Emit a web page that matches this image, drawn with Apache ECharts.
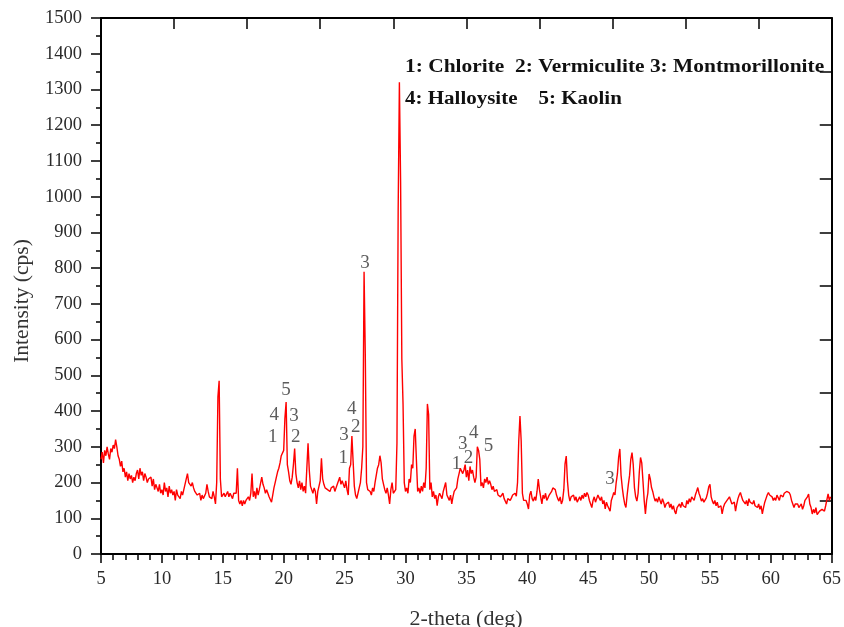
<!DOCTYPE html>
<html>
<head>
<meta charset="utf-8">
<script src="https://cdn.jsdelivr.net/npm/echarts@6/dist/echarts.min.js"></script>
<style>
html,body{margin:0;padding:0;background:#fff;}
#chart{width:844px;height:627px;}
</style>
</head>
<body>
<div id="chart"></div>
<script>
// 2-theta sampling grid: start and step of the scan
const thetaStart = 5;
const thetaStep = 0.1;
// Intensity (cps), one row per degree of 2-theta (10 samples per row)
const intensity = [
  265,285,255,290,275,300,280,265,295,285,
  305,295,320,300,275,265,245,260,230,240,
  215,230,205,225,210,220,200,215,205,225,
  235,210,240,220,230,205,225,215,200,210,
  205,215,190,210,180,195,185,175,195,170,
  180,165,200,175,185,160,190,170,180,165,
  175,150,180,165,170,155,175,165,180,185,
  210,225,200,205,190,200,185,175,180,165,
  160,170,150,165,155,160,170,195,175,160,
  165,155,175,160,140,200,440,485,210,160,
  155,170,160,165,175,160,170,165,155,170,
  165,170,240,150,140,150,135,150,140,150,
  145,160,150,170,225,160,175,155,185,165,
  180,175,215,195,185,170,180,175,160,165,
  145,165,185,200,215,230,240,255,275,270,
  290,380,425,250,230,205,195,215,250,295,
  225,200,185,205,180,200,175,190,170,175,
  310,235,190,180,170,185,175,140,175,190,
  205,268,210,195,185,190,180,185,175,185,
  180,190,175,185,195,200,215,195,205,200,
  185,205,180,165,240,250,330,260,190,165,
  155,170,185,200,240,300,790,560,200,180,
  180,175,165,185,175,200,220,240,250,275,
  255,210,195,180,170,185,165,140,180,200,
  170,175,180,310,965,1320,1040,546,420,200,
  175,185,170,210,200,250,240,330,350,260,
  175,185,170,190,175,200,185,240,420,390,
  180,200,160,175,155,165,135,160,170,165,
  155,175,170,200,165,160,150,165,140,160,
  175,170,185,210,225,240,245,225,235,250,
  215,235,205,245,225,235,215,200,215,300,
  290,265,190,200,185,210,200,215,195,205,
  195,180,190,175,172,180,165,170,160,162,
  170,155,150,140,155,160,150,157,165,160,
  170,162,200,316,386,316,170,150,148,150,
  140,126,165,176,155,148,160,150,175,210,
  180,160,140,165,155,170,150,157,165,160,
  175,185,190,180,165,155,148,160,140,150,
  180,252,274,204,165,148,160,155,165,150,
  160,145,148,160,150,165,155,170,160,172,
  165,150,140,130,150,160,145,155,165,157,
  150,160,140,150,126,145,135,140,120,150,
  160,172,165,200,224,270,294,220,186,160,
  140,130,165,195,220,265,284,250,186,160,
  148,170,230,270,255,204,150,112,150,170,
  224,210,186,175,160,148,155,145,160,150,
  140,155,145,130,140,135,145,130,140,125,
  135,120,112,130,125,140,130,145,135,140,
  130,150,140,155,145,160,157,150,165,175,
  186,170,160,148,155,145,150,157,170,188,
  195,160,148,140,150,135,145,130,125,135,
  112,130,140,135,150,145,160,157,140,135,
  145,120,140,155,165,172,160,150,145,140,
  150,135,155,145,148,140,150,135,140,130,
  140,125,135,112,130,145,155,165,172,165,
  170,160,150,157,150,165,160,150,165,168,
  160,170,165,175,176,172,165,150,140,130,
  140,135,140,130,130,140,125,135,150,145,
  160,168,140,130,112,125,115,130,110,106,
  120,115,125,130,120,135,140,168,150,160
];
// Phase annotations: 2-theta position, intensity position, label
const peakLabelX = [26.67, 20.19, 19.22, 20.84, 19.1, 21.0, 25.58, 25.92, 24.95, 24.9, 34.7, 35.6, 36.82, 34.18, 35.18, 46.8];
const peakLabelY = [814, 460, 389, 385, 328, 328, 405, 354, 333, 269, 308, 338, 302, 253, 269, 210];
const peakLabelText = ['3','5','4','3','1','2','4','2','3','1','3','4','5','1','2','3'];
// Legend lines
const legendLines = ['1: Chlorite  2: Vermiculite 3: Montmorillonite', '4: Halloysite    5: Kaolin'];
// Axis titles
const xTitle = '2-theta (deg)';
const yTitle = 'Intensity (cps)';

const lineData = intensity.map((v, i) => [+(thetaStart + i * thetaStep).toFixed(2), v]);
const labelData = peakLabelX.map((x, i) => ({ value: [x, peakLabelY[i]], name: peakLabelText[i] }));

const serif = 'Liberation Serif, Times New Roman, serif';
const chart = echarts.init(document.getElementById('chart'), null, { renderer: 'canvas' });
chart.setOption({
  animation: false,
  backgroundColor: '#ffffff',
  grid: { left: 101, right: 11, top: 18, bottom: 73, containLabel: false },
  xAxis: [
    {
      type: 'value', min: 5, max: 65, interval: 5, position: 'bottom',
      axisLine: { show: true, onZero: false, lineStyle: { color: '#000', width: 2 } },
      axisTick: { show: true, inside: false, length: 9, lineStyle: { color: '#000', width: 1.5 } },
      minorTick: { show: true, splitNumber: 5, length: 6, lineStyle: { color: '#000', width: 1.5 } },
      splitLine: { show: false },
      axisLabel: { fontFamily: serif, fontSize: 18.5, color: '#2a2a2a', margin: 16, formatter: v => String(v) }
    },
    {
      type: 'value', min: 0, max: 10, interval: 1, position: 'top',
      axisLine: { show: true, onZero: false, lineStyle: { color: '#000', width: 2 } },
      axisTick: { show: true, inside: true, length: 11, lineStyle: { color: '#000', width: 1.5 } },
      splitLine: { show: false },
      axisLabel: { show: false }
    }
  ],
  yAxis: [
    {
      type: 'value', min: 0, max: 1500, interval: 100, position: 'left',
      axisLine: { show: true, onZero: false, lineStyle: { color: '#000', width: 2 } },
      axisTick: { show: true, inside: false, length: 10, lineStyle: { color: '#000', width: 1.5 } },
      minorTick: { show: true, splitNumber: 2, length: 5, lineStyle: { color: '#000', width: 1.5 } },
      splitLine: { show: false },
      axisLabel: { fontFamily: serif, fontSize: 18.5, color: '#2a2a2a', margin: 19, formatter: v => String(v) }
    },
    {
      type: 'value', min: 0, max: 10, interval: 1, position: 'right',
      axisLine: { show: true, onZero: false, lineStyle: { color: '#000', width: 2 } },
      axisTick: { show: true, inside: true, length: 12, lineStyle: { color: '#000', width: 1.5 } },
      splitLine: { show: false },
      axisLabel: { show: false }
    }
  ],
  series: [
    {
      type: 'line', xAxisIndex: 0, yAxisIndex: 0, data: lineData,
      showSymbol: false, symbol: 'none', smooth: false, sampling: null,
      lineStyle: { color: '#ff0000', width: 1.4 }, silent: true, z: 2
    },
    {
      type: 'scatter', xAxisIndex: 0, yAxisIndex: 0, data: labelData,
      symbolSize: 1, itemStyle: { color: 'rgba(0,0,0,0)' }, silent: true, z: 3,
      label: {
        show: true, position: 'inside', formatter: p => p.name,
        fontFamily: serif, fontSize: 19, color: '#333'
      }
    }
  ],
  graphic: [
    {
      type: 'text', x: 405, y: 67, scaleX: 1.19, silent: true,
      style: { text: legendLines[0], x: 0, y: 0, fontFamily: serif, fontWeight: 'bold', fontSize: 18, fill: '#111', verticalAlign: 'middle', align: 'left' }
    },
    {
      type: 'text', x: 405, y: 99, scaleX: 1.166, silent: true,
      style: { text: legendLines[1], x: 0, y: 0, fontFamily: serif, fontWeight: 'bold', fontSize: 18, fill: '#111', verticalAlign: 'middle', align: 'left' }
    },
    {
      type: 'text', x: 22, y: 301, rotation: Math.PI / 2, silent: true,
      style: { text: yTitle, x: 0, y: 0, fontFamily: serif, fontSize: 21.5, fill: '#333', verticalAlign: 'middle', align: 'center' }
    },
    {
      type: 'text', x: 466, y: 619, silent: true,
      style: { text: xTitle, x: 0, y: 0, fontFamily: serif, fontSize: 22, fill: '#333', verticalAlign: 'middle', align: 'center' }
    }
  ]
});
</script>
</body>
</html>
